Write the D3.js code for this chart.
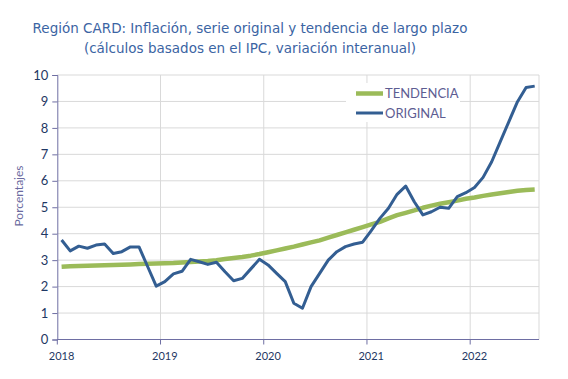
<!DOCTYPE html>
<html><head><meta charset="utf-8">
<script src="https://cdn.jsdelivr.net/npm/d3@7"></script>
<style>body{margin:0;background:#fff}svg{display:block}</style>
</head><body>
<svg id="c" width="568" height="379"></svg>
<script>
const months = [];
for (let y = 2018; y <= 2022; y++) for (let m = 1; m <= 12; m++) { if (y === 2022 && m > 8) break; months.push(y + "-" + String(m).padStart(2, "0")); }
const yearLabels = ["2018","2019","2020","2021","2022"];
const yTicks = [0,1,2,3,4,5,6,7,8,9,10];
const original = [3.76,3.35,3.53,3.45,3.57,3.61,3.25,3.32,3.50,3.50,2.76,2.02,
  2.19,2.48,2.58,3.03,2.94,2.84,2.92,2.56,2.22,2.31,2.67,3.03,
  2.82,2.50,2.19,1.37,1.18,2.00,2.50,3.00,3.32,3.51,3.61,3.68,
  4.12,4.58,4.96,5.49,5.80,5.21,4.71,4.83,5.00,4.96,5.40,5.55,
  5.75,6.13,6.72,7.48,8.24,8.99,9.53,9.58];
const tendencia = [2.75,2.77,2.78,2.79,2.80,2.81,2.82,2.83,2.84,2.85,2.86,2.87,
  2.88,2.89,2.91,2.93,2.95,2.97,3.00,3.04,3.08,3.12,3.17,3.23,
  3.30,3.37,3.44,3.51,3.59,3.67,3.75,3.85,3.95,4.05,4.15,4.25,
  4.35,4.45,4.58,4.70,4.79,4.88,4.98,5.06,5.13,5.19,5.25,5.32,
  5.37,5.43,5.48,5.53,5.58,5.62,5.65,5.67];
const seriesNames = ["TENDENCIA","ORIGINAL"];
const colors = {TENDENCIA:"#9bbb59", ORIGINAL:"#335e92"};

const svg = d3.select("#c");
const L = 57.3, R = 539, T = 75, B = 339.5;
const x = d3.scaleBand().domain(months).range([L, R]).paddingInner(0).paddingOuter(0);
const y = d3.scaleLinear().domain([0, 10]).range([B, T]);
const cx = d => x(d) + x.bandwidth() / 2;
const grid = "#d9d9d9", axisCol = "#6e6ea3";

// horizontal gridlines
svg.append("g").selectAll("line").data(yTicks.filter(v => v > 0)).join("line")
  .attr("x1", L).attr("x2", R).attr("y1", d => y(d)).attr("y2", d => y(d))
  .attr("stroke", grid).attr("stroke-width", 1);
// vertical gridlines at year starts and right edge
const yearStarts = yearLabels.map(yy => yy + "-01");
svg.append("g").selectAll("line").data(yearStarts.slice(1)).join("line")
  .attr("x1", d => x(d)).attr("x2", d => x(d)).attr("y1", T).attr("y2", B)
  .attr("stroke", grid);
svg.append("line").attr("x1", R).attr("x2", R).attr("y1", T).attr("y2", B).attr("stroke", grid);

// y axis
const ya = svg.append("g").attr("transform", `translate(${L},0)`)
  .call(d3.axisLeft(y).tickValues(yTicks).tickSize(5).tickPadding(4).tickFormat(d3.format("d")));
ya.select(".domain").attr("stroke", axisCol);
ya.selectAll(".tick line").attr("stroke", axisCol);
ya.selectAll("text").attr("fill", "#1f3864").attr("font-family", "Lato, 'Open Sans', sans-serif").attr("font-size", 13);

// x axis
const xa = svg.append("g").attr("transform", `translate(0,${B})`);
xa.append("line").attr("x1", L).attr("x2", R).attr("stroke", axisCol).attr("stroke-width", 1.2);
xa.selectAll("line.t").data(yearStarts).join("line").attr("class","t")
  .attr("x1", d => x(d)).attr("x2", d => x(d)).attr("y1", 0).attr("y2", 5).attr("stroke", axisCol);
xa.selectAll("text").data(yearStarts).join("text")
  .attr("x", d => cx(d)).attr("y", 20).attr("text-anchor", "middle")
  .attr("fill", "#1f3864").attr("font-family", "Lato, 'Open Sans', sans-serif").attr("font-size", 11)
  .text((d, i) => yearLabels[i]);

// lines
const line = d3.line().x((d, i) => cx(months[i])).y(d => y(d)).curve(d3.curveLinear);
svg.append("path").datum(tendencia).attr("d", line).attr("fill", "none")
  .attr("stroke", colors.TENDENCIA).attr("stroke-width", 4.5).attr("stroke-linejoin", "round");
svg.append("path").datum(original).attr("d", line).attr("fill", "none")
  .attr("stroke", colors.ORIGINAL).attr("stroke-width", 3).attr("stroke-linejoin", "round");

// legend
const lg = svg.append("g");
lg.append("rect").attr("x", 346).attr("y", 83).attr("width", 114).attr("height", 39).attr("fill", "#fff");
seriesNames.forEach((n, i) => {
  const yy = 93.5 + i * 19.5;
  lg.append("line").attr("x1", 356).attr("x2", 383).attr("y1", yy).attr("y2", yy)
    .attr("stroke", colors[n]).attr("stroke-width", n === "TENDENCIA" ? 4.5 : 3);
  lg.append("text").attr("x", 385).attr("y", yy + 4.5).attr("fill", "#5d5d92")
    .attr("font-family", "Lato, 'Open Sans', sans-serif").attr("font-size", 13).text(n);
});

// y label
svg.append("text").attr("transform", "translate(23,196) rotate(-90)").attr("text-anchor", "middle")
  .attr("fill", "#6a6aa0").attr("font-family", "Lato, 'Open Sans', sans-serif").attr("font-size", 12).text("Porcentajes");

// title
const tt = svg.append("g").attr("fill", "#3b64a3").attr("font-family", "'DejaVu Sans', sans-serif").attr("font-size", 13.5).attr("text-anchor", "middle");
tt.append("text").attr("x", 250).attr("y", 33).text("Región CARD: Inflación, serie original y tendencia de largo plazo");
tt.append("text").attr("x", 250).attr("y", 53).text("(cálculos basados en el IPC, variación interanual)");
</script>
</body></html>
